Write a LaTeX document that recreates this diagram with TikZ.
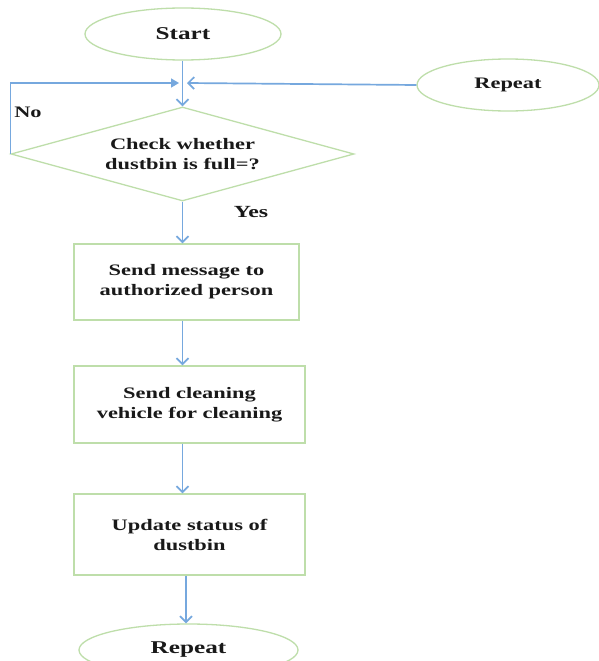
\documentclass[tikz,border=0pt]{standalone}
\usepackage{fontspec}
\setmainfont{Liberation Serif}[FakeStretch=1.4]
\usetikzlibrary{shapes.geometric,arrows.meta}
\definecolor{shapegreen}{RGB}{190,222,170}
\definecolor{flowblue}{RGB}{118,168,222}
\begin{document}
\begin{tikzpicture}[x=1pt,y=-1pt,
  every node/.style={font=\bfseries\fontsize{16}{20}\selectfont, text=black!90},
  shapebox/.style={draw=shapegreen, line width=1.3pt, align=center, inner sep=0pt},
  term/.style={shapebox, ellipse},
  proc/.style={shapebox, rectangle},
  decis/.style={shapebox, diamond, aspect=3.65},
  flow/.style={draw=flowblue, line width=1.7pt, -{Straight Barb[length=6pt,width=12pt]}},
  flowfill/.style={draw=flowblue, line width=1.7pt, -{Triangle[length=8pt,width=9pt]}},
  lbl/.style={font=\bfseries\fontsize{16}{20}\selectfont},
]
\useasboundingbox[fill=white] (0,0) rectangle (598,661);
\node[term, minimum width=196pt, minimum height=52pt, font=\bfseries\fontsize{18}{22}\selectfont] (start) at (183,34) {Start};
\node[term, minimum width=182pt, minimum height=52pt] (rep1) at (508,85) {Repeat};
\node[decis, minimum width=343pt, minimum height=94pt] (dia) at (182.5,154) {Check whether\\dustbin is full=?};
\node[proc, minimum width=225pt, minimum height=76pt] (box1) at (186.5,282) {Send message to\\authorized person};
\node[proc, minimum width=231pt, minimum height=77pt] (box2) at (189.5,404.5) {Send cleaning\\vehicle for cleaning};
\node[proc, minimum width=231pt, minimum height=81pt] (box3) at (189.5,534.5) {Update status of\\dustbin};
\node[term, minimum width=219pt, minimum height=52pt, font=\bfseries\fontsize{18}{22}\selectfont] (rep2) at (188.5,650) {Repeat};
\node[lbl] (no) at (28,112) {No};
\node[lbl, font=\bfseries\fontsize{17}{20}\selectfont] (yes) at (251,212) {Yes};
\coordinate (j) at (182,83);
\coordinate (jl) at (179,83);
\coordinate (jr) at (187,83);
\draw[flow] (start.south -| dia.north) -- (dia.north);
\draw[flowfill] (dia.west) -- (dia.west |- j) -- (jl);
\draw[flow] (rep1.west) -- (jr);
\draw[flow] (dia.south) -- (dia.south |- box1.north);
\draw[flow] (box1.south -| dia.south) -- (box2.north -| dia.south);
\draw[flow] (box2.south -| dia.south) -- (box3.north -| dia.south);
\draw[flow] ([xshift=-2.5pt]box3.south -| rep2.north) -- ([xshift=-2.5pt]rep2.north);
\end{tikzpicture}
\end{document}
